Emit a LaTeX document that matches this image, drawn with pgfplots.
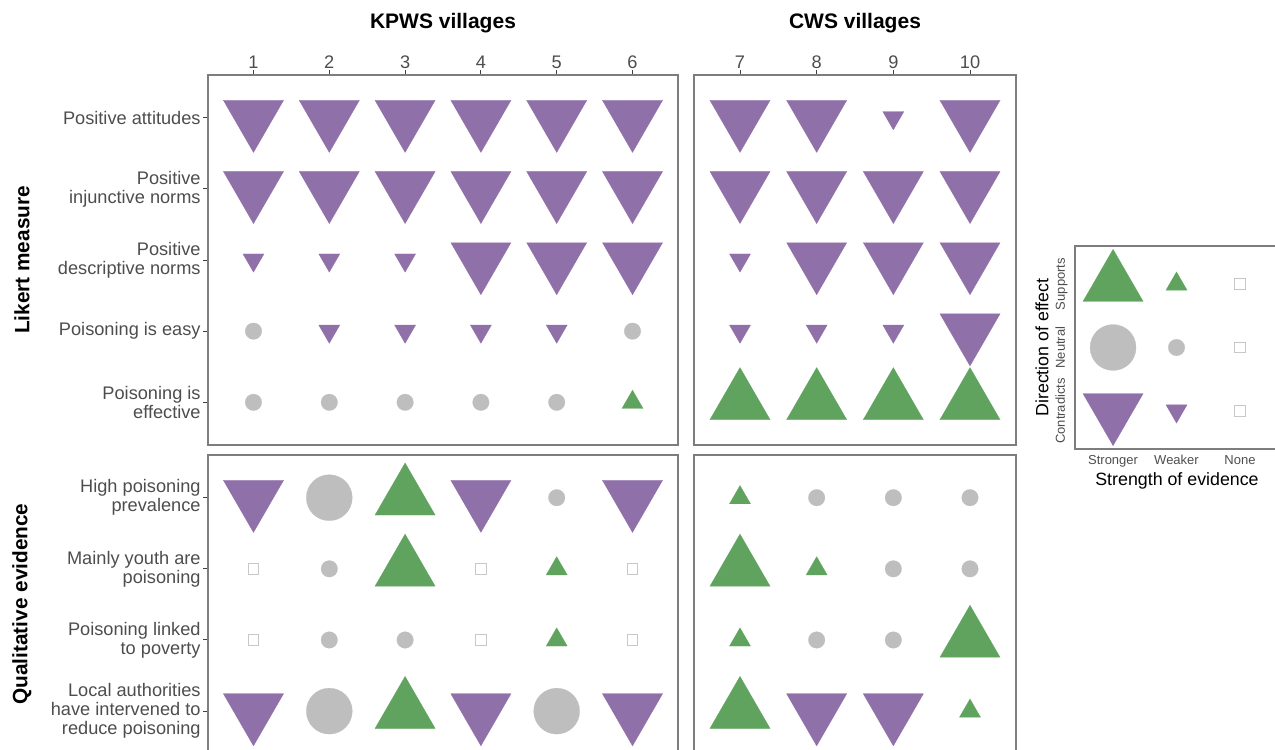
\documentclass[border=0pt]{standalone}
\usepackage{fontspec}
\setmainfont{Liberation Sans}
\usepackage{pgfplots}
\pgfplotsset{compat=1.18}
\definecolor{cpurple}{RGB}{143,112,168}
\definecolor{cgreen}{RGB}{95,163,94}
\definecolor{cgray}{RGB}{190,190,190}
\definecolor{csq}{RGB}{200,200,200}
\definecolor{cborder}{RGB}{125,125,125}
\definecolor{ctext}{RGB}{77,77,77}
\pgfplotsset{
  panel/.style={scale only axis, anchor=north west,
    axis line style={cborder, line width=0.6pt},
    tick align=outside, major tick length=2.5pt,
    tick style={color=black!75, line width=0.5pt},
    ticklabel style={font=\fontsize{9.1}{9.5}\selectfont, text=ctext},
    xticklabel style={inner sep=0.6pt},
    y dir=reverse, clip=false},
  Sb/.style={only marks, mark=triangle*, mark size=17.4pt, mark options={rotate=180, fill=cpurple, draw=cpurple, line width=0.1pt}},
  Sw/.style={only marks, mark=triangle*, mark size=6.1pt, mark options={rotate=180, fill=cpurple, draw=cpurple, line width=0.1pt}},
  Pb/.style={only marks, mark=triangle*, mark size=17.4pt, mark options={fill=cgreen, draw=cgreen, line width=0.1pt}},
  Pw/.style={only marks, mark=triangle*, mark size=6.1pt, mark options={fill=cgreen, draw=cgreen, line width=0.1pt}},
  Nb/.style={only marks, mark=*, mark size=11.5pt, mark options={fill=cgray, draw=cgray, line width=0.1pt}},
  Nw/.style={only marks, mark=*, mark size=4.15pt, mark options={fill=cgray, draw=cgray, line width=0.1pt}},
  O/.style={only marks, mark=square, mark size=2.6pt, mark options={draw=csq, line width=0.5pt, fill=white}},
}
\begin{document}
\begin{tikzpicture}
% ---------- Top-left: Likert, KPWS ----------
\begin{axis}[panel, at={(104pt,-37.5pt)}, width=235pt, height=185pt,
  xmin=0.4, xmax=6.6, ymin=0.4, ymax=5.6,
  xtick={1,2,3,4,5,6}, xticklabels={1,2,3,4,5,6},
  xtick pos=right, xticklabel pos=right, ytick pos=left,
  ytick={1,2,3,4,5},
  yticklabels={{Positive attitudes},{Positive\\injunctive norms},{Positive\\descriptive norms},{Poisoning is easy},{Poisoning is\\effective}},
  yticklabel style={align=right, inner sep=1pt}]
\addplot[Sb] coordinates {(1,1)(2,1)(3,1)(4,1)(5,1)(6,1)(1,2)(2,2)(3,2)(4,2)(5,2)(6,2)(4,3)(5,3)(6,3)};
\addplot[Sw] coordinates {(1,3)(2,3)(3,3)(2,4)(3,4)(4,4)(5,4)};
\addplot[Nw] coordinates {(1,4)(6,4)(1,5)(2,5)(3,5)(4,5)(5,5)};
\addplot[Pw] coordinates {(6,5)};
\end{axis}
% ---------- Top-right: Likert, CWS ----------
\begin{axis}[panel, at={(347pt,-37.5pt)}, width=161pt, height=185pt,
  xmin=6.4, xmax=10.6, ymin=0.4, ymax=5.6,
  xtick={7,8,9,10}, xticklabels={7,8,9,10},
  xtick pos=right, xticklabel pos=right, ytick=\empty]
\addplot[Sb] coordinates {(7,1)(8,1)(10,1)(7,2)(8,2)(9,2)(10,2)(8,3)(9,3)(10,3)(10,4)};
\addplot[Sw] coordinates {(9,1)(7,3)(7,4)(8,4)(9,4)};
\addplot[Pb] coordinates {(7,5)(8,5)(9,5)(10,5)};
\end{axis}
% ---------- Bottom-left: Qualitative, KPWS ----------
\begin{axis}[panel, at={(104pt,-227.5pt)}, width=235pt, height=149.4pt,
  xmin=0.4, xmax=6.6, ymin=0.4, ymax=4.6,
  xtick=\empty, ytick pos=left,
  ytick={1,2,3,4},
  yticklabels={{High poisoning\\prevalence},{Mainly youth are\\poisoning},{Poisoning linked\\to poverty},{Local authorities\\have intervened to\\reduce poisoning}},
  yticklabel style={align=right, inner sep=1pt}]
\addplot[Sb] coordinates {(1,1)(4,1)(6,1)(1,4)(4,4)(6,4)};
\addplot[Nb] coordinates {(2,1)(2,4)(5,4)};
\addplot[Pb] coordinates {(3,1)(3,2)(3,4)};
\addplot[Nw] coordinates {(5,1)(2,2)(2,3)(3,3)};
\addplot[Pw] coordinates {(5,2)(5,3)};
\addplot[O] coordinates {(1,2)(4,2)(6,2)(1,3)(4,3)(6,3)};
\end{axis}
% ---------- Bottom-right: Qualitative, CWS ----------
\begin{axis}[panel, at={(347pt,-227.5pt)}, width=161pt, height=149.4pt,
  xmin=6.4, xmax=10.6, ymin=0.4, ymax=4.6,
  xtick=\empty, ytick=\empty]
\addplot[Pw] coordinates {(7,1)(8,2)(7,3)(10,4)};
\addplot[Nw] coordinates {(8,1)(9,1)(10,1)(9,2)(10,2)(8,3)(9,3)};
\addplot[Pb] coordinates {(7,2)(10,3)(7,4)};
\addplot[Sb] coordinates {(8,4)(9,4)};
\end{axis}
% ---------- Legend panel ----------
\begin{axis}[panel, at={(537.5pt,-123pt)}, width=101.5pt, height=101.5pt,
  xmin=0.4, xmax=3.6, ymin=0.4, ymax=3.6,
  xtick={1,2,3}, xticklabels={Stronger,Weaker,None},
  ytick={1,2,3}, yticklabels={Supports,Neutral,Contradicts},
  xtick pos=left, ytick pos=left,
  major tick length=1.3pt, tick style={draw=none},
  typeset ticklabels with strut,
  ticklabel style={font=\fontsize{6.5}{7}\selectfont, text=ctext},
  xticklabel style={inner sep=1.5pt},
  yticklabel style={rotate=90, anchor=south, inner sep=1.5pt}]
\addplot[Pb] coordinates {(1,1)};
\addplot[Pw] coordinates {(2,1)};
\addplot[O] coordinates {(3,1)(3,2)(3,3)};
\addplot[Nb] coordinates {(1,2)};
\addplot[Nw] coordinates {(2,2)};
\addplot[Sb] coordinates {(1,3)};
\addplot[Sw] coordinates {(2,3)};
\end{axis}
% ---------- Titles ----------
\node[anchor=base, font=\bfseries\fontsize{10.5}{12}\selectfont] at (221.5pt,-14pt) {KPWS villages};
\node[anchor=base, font=\bfseries\fontsize{10.5}{12}\selectfont] at (427.5pt,-14pt) {CWS villages};
\node[rotate=90, font=\bfseries\fontsize{10.4}{12}\selectfont] at (11pt,-130pt) {Likert measure};
\node[rotate=90, font=\bfseries\fontsize{10.4}{12}\selectfont] at (11pt,-302pt) {Qualitative evidence};
\node[rotate=90, font=\fontsize{8.9}{10}\selectfont] at (521pt,-173.75pt) {Direction of effect};
\node[font=\fontsize{8.9}{10}\selectfont] at (588.5pt,-240.5pt) {Strength of evidence};
\pgfresetboundingbox
\path[use as bounding box] (0pt,0pt) rectangle (637.5pt,-375pt);
\end{tikzpicture}
\end{document}
